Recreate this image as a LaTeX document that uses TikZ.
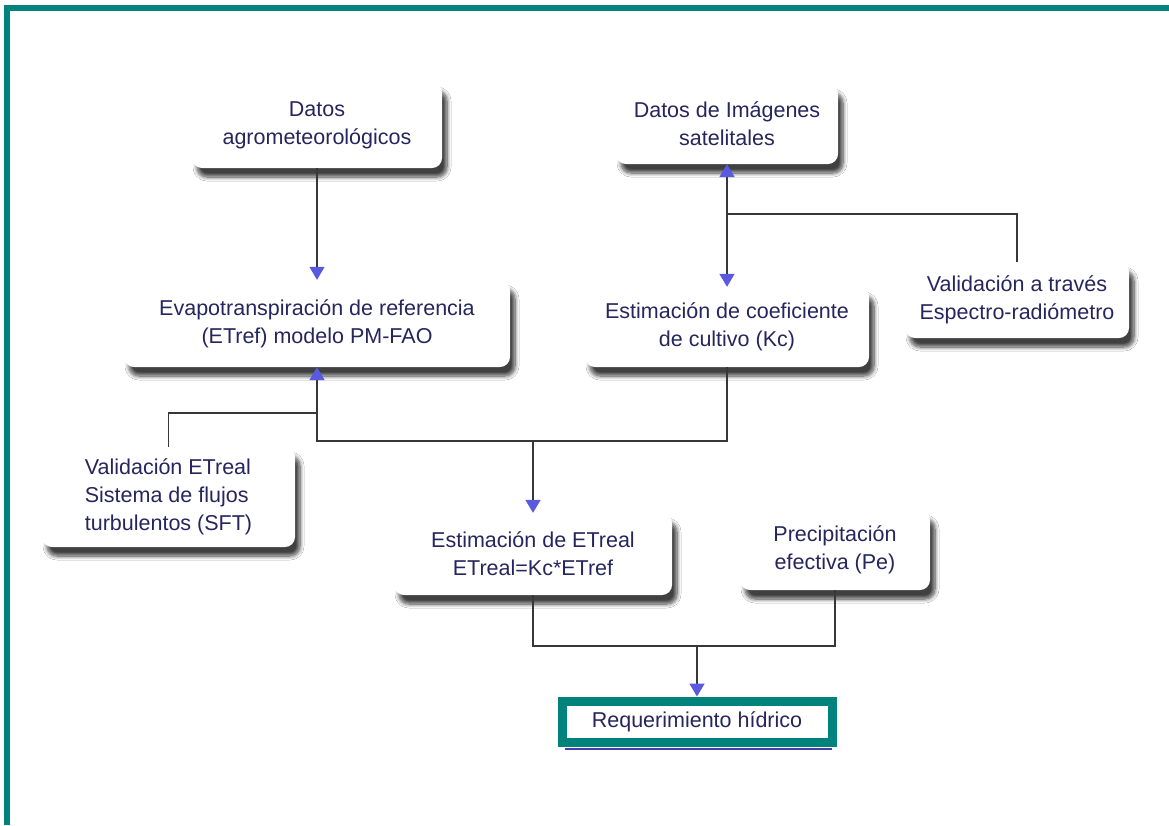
\documentclass[tikz,border=0pt]{standalone}
\usepackage{fontspec}
\setmainfont{Liberation Sans}
\usetikzlibrary{arrows.meta,shadows.blur}
\definecolor{tealframe}{RGB}{0,130,125}
\definecolor{txtblue}{RGB}{38,38,94}
\definecolor{arrblue}{RGB}{90,90,225}
\definecolor{lngray}{RGB}{55,55,55}
\definecolor{lineblue}{RGB}{70,60,170}
\begin{document}
\begin{tikzpicture}[x=1pt,y=-1pt,
  box/.style={rounded corners=10pt, fill=white, align=center, text=txtblue,
    font=\fontsize{21.5}{28}\selectfont, inner sep=0pt,
    blur shadow={shadow xshift=5pt, shadow yshift=-9pt, shadow blur radius=4pt, shadow opacity=75, shadow blur steps=8}},
  conn/.style={draw=lngray, line width=1.8pt},
  arr/.style={conn, -{Triangle[width=15pt,length=13pt,color=arrblue]}},
  finalbox/.style={draw=tealframe, line width=9pt, fill=white, text=txtblue,
    font=\fontsize{21.5}{28}\selectfont, inner sep=0pt}
]
\useasboundingbox (0,0) rectangle (1169,825);
\fill[white] (0,0) rectangle (1169,825);
% outer teal frame (top and left)
\fill[tealframe] (4,5) rectangle (1169,11);
\fill[tealframe] (4,5) rectangle (10,825);

% boxes
\node[box, minimum width=250pt, minimum height=86pt] (agro) at (317,125) {Datos\\agrometeorológicos};
\node[box, minimum width=222pt, minimum height=80pt] (sat) at (727,124) {Datos de Imágenes\\satelitales};
\node[box, minimum width=386pt, minimum height=87pt] (evapo) at (317,323.5) {Evapotranspiración de referencia\\(ETref) modelo PM-FAO};
\node[box, minimum width=284pt, minimum height=80pt] (coef) at (727,327) {Estimación de coeficiente\\de cultivo (Kc)};
\node[box, minimum width=224pt, minimum height=76pt] (valid2) at (1017,300) {Validación a través\\Espectro-radiómetro};
\node[box, align=left, minimum width=253pt, minimum height=100pt] (validET) at (168.5,497) {Validación ETreal\\Sistema de flujos\\turbulentos (SFT)};
\node[box, minimum width=278pt, minimum height=82pt] (estET) at (533,554) {Estimación de ETreal\\ETreal=Kc*ETref};
\node[box, minimum width=190pt, minimum height=80pt] (precip) at (835,550) {Precipitación\\efectiva (Pe)};
\draw[lineblue, line width=2pt] ([xshift=3pt,yshift=-2.5pt]697-135,746.5) -- (832,749);
\node[finalbox, minimum width=270pt, minimum height=41pt] (req) at (697,721.5) {Requerimiento hídrico};

% junctions
\coordinate (j1) at (727,214);
\coordinate (jA) at (317,413);
\coordinate (jB) at (317,441);
\coordinate (jC) at (533,441);
\coordinate (jE) at (697,646);
\coordinate (jF) at (835,646);

% connectors
\draw[arr] (agro) -- (evapo);
\draw[arr] (j1) -- (sat.south);
\draw[arr] (j1) -- (coef.north);
\draw[conn] (j1) -| (valid2.north);
\draw[arr] (coef.south) |- (jB) -- (evapo.south);
\draw[conn] (jA) -| (validET.north);
\draw[arr] (jC) -- (estET.north);
\draw[conn] (estET.south) |- (jF) -- (precip.south);
\draw[arr] (jE) -- (req.north);
\end{tikzpicture}
\end{document}
